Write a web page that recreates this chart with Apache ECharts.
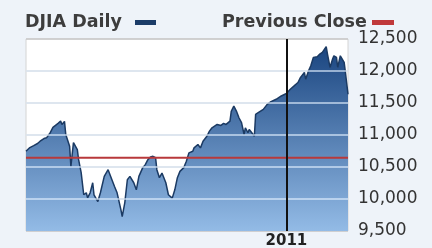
<!DOCTYPE html>
<html>
<head>
<meta charset="utf-8">
<script src="https://cdn.jsdelivr.net/npm/echarts@6/dist/echarts.min.js"></script>
<style>
  html, body { margin: 0; padding: 0; background: #eef3f9; }
  #chart { width: 432px; height: 248px; }
</style>
</head>
<body>
<div id="chart"></div>
<script>
// trading day index (0 = first day shown) and DJIA close
var days = [0, 3, 6, 9, 11, 14, 16, 19, 21, 23, 25, 27, 28, 30, 31, 34, 35, 37, 38, 40,
	41, 43, 45, 47, 48, 50, 52, 53, 56, 58, 61, 64, 66, 69, 71, 74, 75, 77, 79, 81,
	84, 86, 88, 91, 93, 95, 97, 99, 101, 102, 104, 106, 109, 111, 114, 116, 118, 120, 123, 125,
	127, 130, 131, 134, 136, 138, 141, 143, 145, 149, 152, 154, 156, 159, 160, 162, 164, 166, 168, 170,
	171, 173, 174, 176, 178, 179, 181, 185, 188, 191, 195, 199, 203, 206, 209, 212, 214, 217, 218, 220,
	222, 224, 227, 229, 231, 234, 235, 237, 239, 240, 242, 243, 245, 246, 248, 249, 251];
var closes = [10746, 10804, 10835, 10867, 10903, 10945, 10956, 11040, 11118, 11150, 11181, 11217, 11165, 11212, 11008, 10824, 10510, 10882, 10903, 10773,
	10615, 10411, 10066, 10097, 10018, 10097, 10254, 10066, 9960, 10097, 10353, 10458, 10353, 10196, 10097, 9830, 9725, 9940, 10301, 10353,
	10254, 10144, 10353, 10490, 10537, 10615, 10658, 10667, 10647, 10458, 10333, 10406, 10254, 10066, 10014, 10144, 10333, 10432, 10490, 10589,
	10721, 10746, 10799, 10851, 10799, 10903, 10981, 11060, 11113, 11165, 11150, 11181, 11165, 11217, 11369, 11453, 11374, 11270, 11192, 11008,
	11113, 11035, 11087, 11035, 10981, 11322, 11349, 11401, 11479, 11522, 11558, 11610, 11648, 11715, 11767, 11820, 11899, 11977, 11872, 11990,
	12081, 12213, 12223, 12265, 12292, 12380, 12265, 12056, 12186, 12238, 12213, 12056, 12238, 12213, 12135, 11977, 11637];
var prevClose = 10645;
var yearDay = 203;
var yearLabel = '2011';
var yTicks = [9500, 10000, 10500, 11000, 11500, 12000, 12500];

var chart = echarts.init(document.getElementById('chart'));

var lineData = [];
for (var i = 0; i < days.length; i++) {
	lineData.push([days[i], closes[i]]);
}
var lastDay = days[days.length - 1];

// light grid lines drawn over the filled area (invisible on white)
var overGrid = [];
for (var t of yTicks.slice(1, -1)) {
	overGrid.push({
		yAxis: t,
		lineStyle: { color: 'rgba(228,240,255,0.8)', width: 1.5, type: 'solid' },
		label: { show: false }
	});
}
overGrid.push({
	xAxis: yearDay,
	lineStyle: { color: '#111', width: 2, type: 'solid' },
	label: {
		show: true,
		position: 'start',
		formatter: yearLabel,
		distance: 3,
		color: '#222',
		fontFamily: 'DejaVu Sans',
		fontWeight: 'bold',
		fontSize: 15
	}
});

// legend: text first, coloured dash after it
var legendFont = 'bold 17.5px "DejaVu Sans"';
var option = {
	animation: false,
	backgroundColor: '#eef3f9',
	graphic: [
		{ type: 'text', left: 25, top: 13, style: { text: 'DJIA Daily', font: legendFont, fill: '#3d3d3d' } },
		{ type: 'rect', left: 135, top: 20, shape: { width: 21, height: 5 }, style: { fill: '#1b3c68' } },
		{ type: 'text', left: 222, top: 13, style: { text: 'Previous Close', font: legendFont, fill: '#3d3d3d' } },
		{ type: 'rect', left: 372, top: 20, shape: { width: 22, height: 5 }, style: { fill: '#c0393b' } }
	],
	grid: {
		left: 26,
		right: 84,
		top: 39,
		bottom: 17,
		show: true,
		backgroundColor: '#fff',
		borderColor: '#d4d4d4',
		borderWidth: 1
	},
	xAxis: {
		type: 'value',
		min: 0,
		max: lastDay,
		axisLine: { show: false },
		axisTick: { show: false },
		axisLabel: { show: false },
		splitLine: { show: false }
	},
	yAxis: {
		type: 'value',
		position: 'right',
		min: 9500,
		max: 12500,
		interval: 500,
		axisLine: { show: false },
		axisTick: { show: false },
		axisLabel: {
			margin: 10,
			fontFamily: 'DejaVu Sans',
			fontSize: 17,
			color: '#333',
			formatter: function (v) {
				return v.toLocaleString('en-US');
			}
		},
		splitLine: { lineStyle: { color: '#c8c8c8', width: 1.5 } }
	},
	series: [
		{
			name: 'DJIA Daily',
			type: 'line',
			data: lineData,
			showSymbol: false,
			color: '#1b3c68',
			lineStyle: { color: '#1b3a63', width: 1.5 },
			areaStyle: {
				origin: 'start',
				opacity: 1,
				color: new echarts.graphic.LinearGradient(0, 0, 0, 1, [
					{ offset: 0, color: '#1a4580' },
					{ offset: 1, color: '#93bbe6' }
				])
			},
			markLine: {
				silent: true,
				symbol: 'none',
				data: overGrid
			}
		},
		{
			name: 'Previous Close',
			type: 'line',
			data: [[0, prevClose], [lastDay, prevClose]],
			showSymbol: false,
			color: '#c0393b',
			lineStyle: { color: '#b8393b', width: 2 },
			z: 3
		}
	]
};

chart.setOption(option);
</script>
</body>
</html>
